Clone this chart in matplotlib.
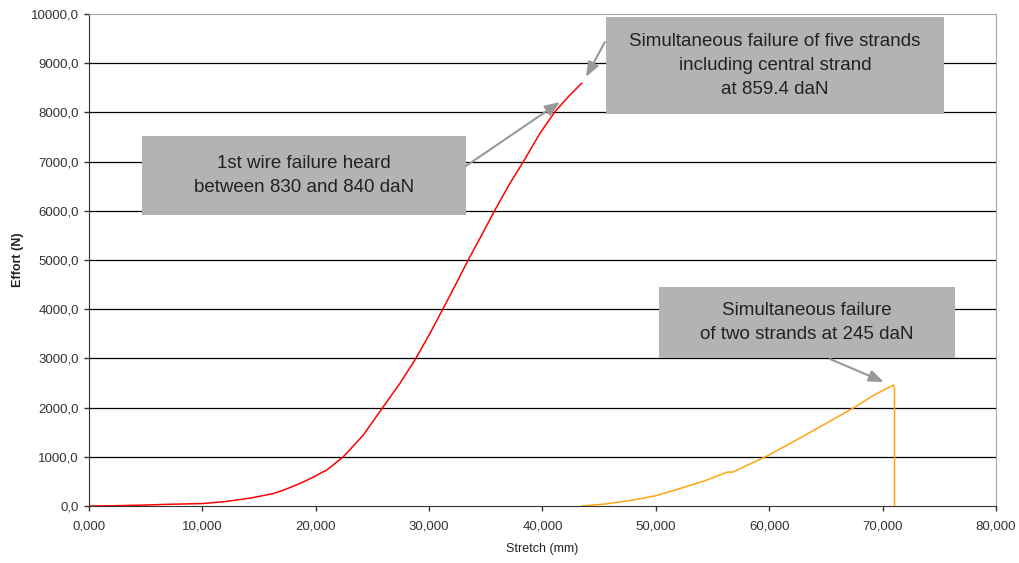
import matplotlib.pyplot as plt
from matplotlib.patches import Rectangle
from matplotlib.ticker import FuncFormatter, MultipleLocator

plt.rcParams["font.family"] = ["Liberation Sans", "DejaVu Sans"]

# first test (red) - stretch in mm, effort in N
red_x = [0, 2000, 5000, 7000, 10000, 12000, 14200, 16200, 17000, 18000, 19000,
         19900, 20600, 20900, 21300, 22430, 24200, 25960, 27430, 28750, 30080,
         31250, 32430, 33450, 34600, 35810, 37130, 38310, 39780, 41100, 42280,
         43450]
red_y = [0, 5, 20, 35, 50, 90, 160, 250, 310, 400, 500, 600, 690, 720, 790,
         1000, 1443, 2018, 2494, 2967, 3510, 4018, 4540, 5000, 5490, 6016, 6558,
         6998, 7575, 8015, 8319, 8591]

# second test (orange)
orange_x = [43450, 45500, 48000, 50000, 51700, 54500, 56300, 56800, 59800, 62700,
            65100, 67400, 69200, 70800, 70950, 71050, 71050]
orange_y = [0, 40, 120, 210, 325, 528, 690, 690, 1016, 1380, 1690, 1990, 2250,
            2440, 2460, 2400, 0]

notes = [
    "1st wire failure heard\nbetween 830 and 840 daN",
    "Simultaneous failure of five strands\nincluding central strand\nat 859.4 daN",
    "Simultaneous failure\nof two strands at 245 daN",
]
# box extents in axes fraction (x0, y0, x1, y1)
note_boxes = [
    (0.0584, 0.5915, 0.4157, 0.752),
    (0.570, 0.7967, 0.9427, 0.9939),
    (0.6284, 0.3008, 0.9548, 0.4451),
]
# arrow tail and tip in data coords
note_arrows = [
    ((33250, 6911), (41540, 8211)),
    ((45510, 9431), (43840, 8720)),
    ((65360, 2988), (70120, 2520)),
]

fig = plt.figure(figsize=(10.19, 5.63), dpi=100)
ax = fig.add_axes([0.0873, 0.1012, 0.8901, 0.8739])

ax.plot(red_x, red_y, color="#ff0000", linewidth=1.1, zorder=3)
ax.plot(orange_x, orange_y, color="#ffa510", linewidth=1.1, zorder=3)

ax.set_xlim(0, 80000)
ax.set_ylim(0, 10000)
ax.xaxis.set_major_locator(MultipleLocator(10000))
ax.yaxis.set_major_locator(MultipleLocator(1000))
ax.xaxis.set_major_formatter(FuncFormatter(lambda v, p: f"{v / 1000:.3f}".replace(".", ",")))
ax.yaxis.set_major_formatter(FuncFormatter(lambda v, p: f"{v:.1f}".replace(".", ",")))

for yv in range(1000, 10000, 1000):
    ax.axhline(yv, color="#000000", linewidth=0.9, zorder=1)

for side in ["top", "right"]:
    ax.spines[side].set_color("#a6a6a6")
for side in ["left", "bottom"]:
    ax.spines[side].set_color("#333333")
ax.tick_params(axis="both", direction="out", length=3.6, width=1, color="#333333",
               labelsize=9.5, labelcolor="#333333")
ax.tick_params(axis="y", pad=3.6)
ax.tick_params(axis="x", pad=6.5)

ax.set_xlabel("Stretch (mm)", fontsize=9, color="#222222", labelpad=8)
ax.set_ylabel("Effort (N)", fontsize=9, fontweight="bold", color="#222222", labelpad=5)

for text, (x0, y0, x1, y1), (tail, tip) in zip(notes, note_boxes, note_arrows):
    ax.add_patch(Rectangle((x0, y0), x1 - x0, y1 - y0, transform=ax.transAxes,
                           facecolor="#b3b3b3", edgecolor="none", zorder=4))
    ax.text((x0 + x1) / 2, (y0 + y1) / 2, text, transform=ax.transAxes,
            ha="center", va="center", fontsize=13.5, color="#222222",
            linespacing=1.52, zorder=5)
    ax.annotate("", xy=tip, xytext=tail,
                arrowprops=dict(arrowstyle="-|>,head_length=0.9,head_width=0.35",
                                color="#999999", linewidth=1.5,
                                shrinkA=0, shrinkB=0), zorder=5)

fig.savefig("out.png", dpi=100)
